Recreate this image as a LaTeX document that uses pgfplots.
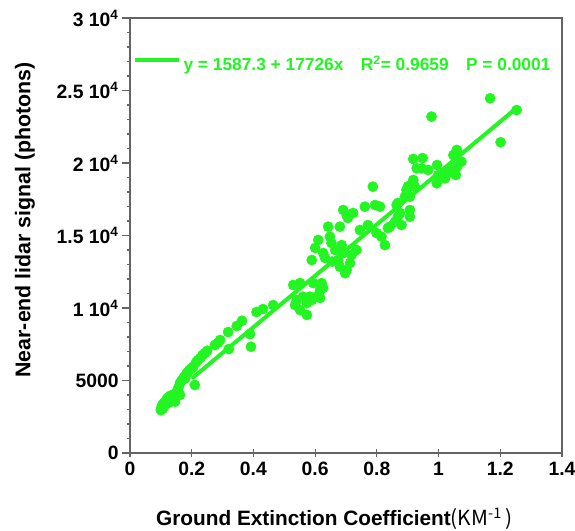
\documentclass[border=0pt]{standalone}
\usepackage{fontspec}
\setmainfont{Liberation Sans}
\newfontfamily\cjk{Noto Sans CJK SC}
\usepackage{pgfplots}
\usepackage{pgfplotstable}
\pgfplotsset{compat=1.18}
\definecolor{pgreen}{RGB}{34,245,34}
\definecolor{axgray}{RGB}{100,100,100}

\pgfplotstableread{
x y
0.100 2950
0.102 3150
0.104 3300
0.106 3050
0.108 3400
0.110 3200
0.112 3500
0.115 3350
0.118 3600
0.120 3750
0.122 3450
0.125 3850
0.128 3650
0.131 3950
0.134 3550
0.138 4000
0.142 3800
0.146 3540
0.150 4150
0.154 4350
0.158 4550
0.162 4830
0.162 4000
0.166 4950
0.170 5050
0.175 5250
0.179 5150
0.184 5510
0.188 5600
0.192 5700
0.197 5800
0.200 5860
0.205 5950
0.210 4690
0.214 6250
0.220 6410
0.228 6550
0.235 6750
0.243 6900
0.250 7050
0.275 7450
0.285 7600
0.292 7790
0.318 8340
0.320 7170
0.346 8760
0.363 9120
0.389 8200
0.392 7330
0.410 9720
0.431 9930
0.464 10200
0.529 11590
0.551 11720
0.540 10550
0.535 10200
0.561 10780
0.573 10340
0.551 9860
0.573 9520
0.589 10550
0.605 10780
0.616 10690
0.626 11380
0.621 11720
0.594 11720
0.616 11240
0.583 10780
0.589 13310
0.600 14140
0.610 14690
0.626 13790
0.632 13450
0.648 14920
0.653 14480
0.642 15610
0.655 13200
0.665 14000
0.680 15610
0.691 16760
0.702 16420
0.723 16550
0.706 16210
0.686 14340
0.691 13790
0.675 13310
0.680 12850
0.697 12400
0.702 12620
0.713 13100
0.718 13660
0.734 14000
0.745 15380
0.761 16990
0.771 15720
0.794 17100
0.799 15170
0.787 18370
0.810 16990
0.815 14920
0.826 14340
0.836 15520
0.859 15950
0.875 16550
0.868 17240
0.891 17680
0.896 18140
0.880 15720
0.842 15610
0.864 17100
0.868 16300
0.907 16300
0.907 16760
0.907 17680
0.901 18390
0.923 18370
0.918 18830
0.929 19630
0.945 19630
0.918 20280
0.948 20340
0.966 19520
0.995 19860
0.999 19170
1.021 18940
0.994 18600
1.030 19300
1.037 19520
1.056 19170
1.060 19750
1.074 20090
1.048 20550
1.059 20900
0.977 23200
1.167 24460
1.201 21430
1.253 23650
}\scatterdata

\begin{document}
\begin{tikzpicture}
\path[use as bounding box] (-97.5pt,-58.5pt) rectangle (333.75pt,339.75pt);
\begin{axis}[
 at={(0,0)}, anchor=south west,
 scale only axis, width=324pt, height=326.25pt,
 xmin=0, xmax=1.4, ymin=0, ymax=30000,
 axis line style={draw=axgray, line width=0.8pt},
 xtick={0,0.2,0.4,0.6,0.8,1,1.2,1.4},
 xticklabels={0,0.2,0.4,0.6,0.8,1,1.2,1.4},
 ytick={0,5000,10000,15000,20000,25000,30000},
 yticklabels={0,5000,1 10\textsuperscript{4},1.5 10\textsuperscript{4},2 10\textsuperscript{4},2.5 10\textsuperscript{4},3 10\textsuperscript{4}},
 minor y tick num=4,
 xtick pos=bottom, ytick pos=left,
 xtick align=center, ytick align=outside,
 major tick length=6pt, minor tick length=2.5pt,
 every tick/.style={draw=axgray, line width=0.8pt},
 tick label style={font=\fontsize{14.5}{16}\selectfont\bfseries, text=black},
 yticklabel style={xshift=1pt},
 scaled ticks=false,
 xlabel={Ground Extinction Coefficient{\cjk\mdseries (KM\textsuperscript{-1}\,)}},
 xlabel style={at={(axis description cs:0.473,-0.152)}, anchor=center, font=\fontsize{15.6}{18}\selectfont\bfseries},
 ylabel={Near-end lidar signal (photons)},
 ylabel style={at={(axis description cs:-0.243,0.536)}, anchor=center, font=\fontsize{16}{18}\selectfont\bfseries},
 legend style={at={(0.006,0.893)}, anchor=west, draw=none, fill=none, inner xsep=0pt, inner ysep=0pt,
   font=\fontsize{13}{16}\selectfont\bfseries, text=pgreen},
 legend image code/.code={\draw[pgreen, line width=3pt] (0pt,3.5pt) -- (33pt,3.5pt);},
]
\addplot[pgreen, line width=3pt] coordinates {(0.2,5132.5) (1.253,23798)};
\addlegendentry{y = 1587.3 + 17726x\hspace{1em}R\textsuperscript{2}= 0.9659\hspace{1em}P = 0.0001}
\addplot[only marks, mark=*, mark size=3.8pt, draw=pgreen, fill=pgreen, forget plot] table[x=x,y=y] {\scatterdata};
\end{axis}
\end{tikzpicture}
\end{document}
